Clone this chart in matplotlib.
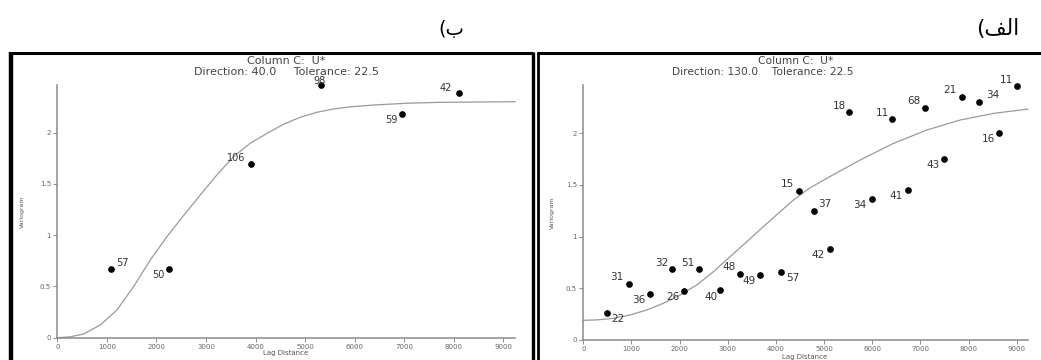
import matplotlib
matplotlib.use('Agg')
from matplotlib import pyplot as plt
from matplotlib.lines import Line2D

W, H = 1041, 360

# panel (ب) : direction 40
lag_b = [1084, 2254, 3902, 5315, 6949, 8111]
gam_b = [0.673, 0.673, 1.692, 2.465, 2.18, 2.384]
pairs_b = ['57', '50', '106', '98', '59', '42']
curve_b_h = [0, 250, 531, 867, 1203, 1539, 1875, 2211, 2547, 2883, 3219, 3555,
             3891, 4227, 4563, 4899, 5236, 5571, 5907, 6377, 7050, 7722, 9235]
curve_b_g = [0, 0.008, 0.036, 0.124, 0.27, 0.497, 0.757, 0.984, 1.19, 1.39, 1.586, 1.764,
             1.895, 1.99, 2.08, 2.148, 2.197, 2.229, 2.25, 2.268, 2.285, 2.294, 2.30]

# panel (الف) : direction 130
lag_a = [486, 949, 1378, 1849, 2098, 2403, 2839, 3254, 3663, 4112, 4473, 4791,
         5130, 5525, 5990, 6418, 6750, 7097, 7491, 7859, 8224, 8640, 9014]
gam_a = [0.264, 0.545, 0.448, 0.684, 0.477, 0.684, 0.484, 0.639, 0.632, 0.661, 1.439, 1.245,
         0.883, 2.201, 1.367, 2.138, 1.454, 2.245, 1.748, 2.354, 2.306, 2.0, 2.458]
pairs_a = ['22', '31', '36', '32', '26', '51', '40', '48', '49', '57', '15', '37',
           '42', '18', '34', '11', '41', '68', '43', '21', '34', '16', '11']
curve_a_h = [0, 300, 623, 970, 1316, 1661, 2008, 2355, 2700, 3047, 3394, 3738,
             4085, 4362, 4700, 5055, 5747, 6439, 7131, 7823, 8515, 9234]
curve_a_g = [0.19, 0.195, 0.21, 0.242, 0.29, 0.355, 0.435, 0.532, 0.66, 0.806, 0.95, 1.096,
             1.241, 1.354, 1.47, 1.564, 1.741, 1.902, 2.031, 2.128, 2.192, 2.234]

xticks = [0, 1000, 2000, 3000, 4000, 5000, 6000, 7000, 8000, 9000]
yticks = [0, 0.5, 1, 1.5, 2]
ytick_labels = ['0', '0.5', '1', '1.5', '2']

# label offsets (pixels) for each point label
offs_b = [(11, 6), (-11, -6), (-15, 6), (-1, 4), (-10, -6), (-14, 5)]
offs_a = [(11, -6), (-12, 7), (-11, -6), (-11, 6), (-11, -6), (-11, 6), (-9, -7), (-11, 7),
          (-11, -6), (11, -6), (-11, 7), (11, 7), (-12, -6), (-10, 6), (-12, -6), (-10, 6),
          (-12, -6), (-11, 7), (-11, -6), (-12, 7), (13, 7), (-11, -6), (-11, 6)]

plt.rcParams['font.family'] = ['DejaVu Sans']

fig = plt.figure(figsize=(W / 100, H / 100), dpi=100)
fig.patch.set_facecolor('white')


def fx(x):
    return x / W


def fy(y):
    return 1 - y / H


def panel(rect, lag, gam, pairs, offs, ch, cg, xmax, ymax, lsize):
    ax = fig.add_axes(rect)
    ax.plot(ch, cg, color='#9a9a9a', lw=0.9, clip_on=False)
    ax.plot(lag, gam, 'o', color='black', ms=3.8, clip_on=False)
    for h, g, t, (dx, dy) in zip(lag, gam, pairs, offs):
        ax.annotate(t, (h, g), xytext=(dx, dy), textcoords='offset pixels',
                    ha='center', va='center', fontsize=lsize, color='#333333')
    ax.set_xlim(0, xmax)
    ax.set_ylim(0, ymax)
    ax.set_xticks(xticks)
    ax.set_xticklabels([str(v) for v in xticks])
    ax.set_yticks(yticks)
    ax.set_yticklabels(ytick_labels)
    for s in ['top', 'right']:
        ax.spines[s].set_visible(False)
    for s in ['left', 'bottom']:
        ax.spines[s].set_color('#8a8a8a')
        ax.spines[s].set_linewidth(1.1)
    ax.tick_params(direction='out', length=3, width=0.7, colors='#8a8a8a',
                   labelsize=5, labelcolor='#666666', pad=1.5)
    ax.patch.set_alpha(0)
    return ax


panel([fx(57.3), fy(337.7), fx(515) - fx(57.3), fy(85) - fy(337.7)],
      lag_b, gam_b, pairs_b, offs_b, curve_b_h, curve_b_g, 9235, 2.463, 7)
panel([fx(583.3), fy(340), fx(1028) - fx(583.3), fy(85) - fy(340)],
      lag_a, gam_a, pairs_a, offs_a, curve_a_h, curve_a_g, 9234, 2.467, 7.5)

# titles
tcol = '#444444'
fig.text(fx(286), fy(55.5), 'Column C:  U*\nDirection: 40.0     Tolerance: 22.5',
         ha='center', va='top', multialignment='center', linespacing=1.15,
         fontsize=8.0, color=tcol)
fig.text(fx(853), fy(55.5), 'Column C:  U*      \nDirection: 130.0    Tolerance: 22.5',
         ha='right', va='top', multialignment='right', linespacing=1.2,
         fontsize=7.7, color=tcol)

# axis labels
for x, y in [(286, 353), (805, 357)]:
    fig.text(fx(x), fy(y), 'Lag Distance', ha='center', va='center', fontsize=5, color='#555555')
for x, y in [(22, 212), (552, 213)]:
    fig.text(fx(x), fy(y), 'Variogram', ha='center', va='center', fontsize=4.5,
             color='#555555', rotation=90)

# panel letters (visual order, Arabic forms)
fig.text(fx(451), fy(29), '(\u0628', ha='center', va='center', fontsize=14, color='black')
fig.text(fx(976), fy(29), '(\ufed2\ufedf\ufe8d', ha='left', va='center', fontsize=15.5, color='black')

# panel frames
def fline(xs, ys, lw):
    fig.add_artist(Line2D([fx(v) for v in xs], [fy(v) for v in ys], color='black',
                          lw=lw, transform=fig.transFigure, solid_capstyle='butt'))


fline([10.5, 10.5], [52, 362], 3.2)
fline([9, 533], [53.3, 53.3], 2.2)
fline([533.3, 533.3], [52, 362], 2.4)
fline([538, 538], [52, 362], 2.0)
fline([537, 1045], [53.3, 53.3], 2.2)

fig.savefig('out.png', dpi=100)
